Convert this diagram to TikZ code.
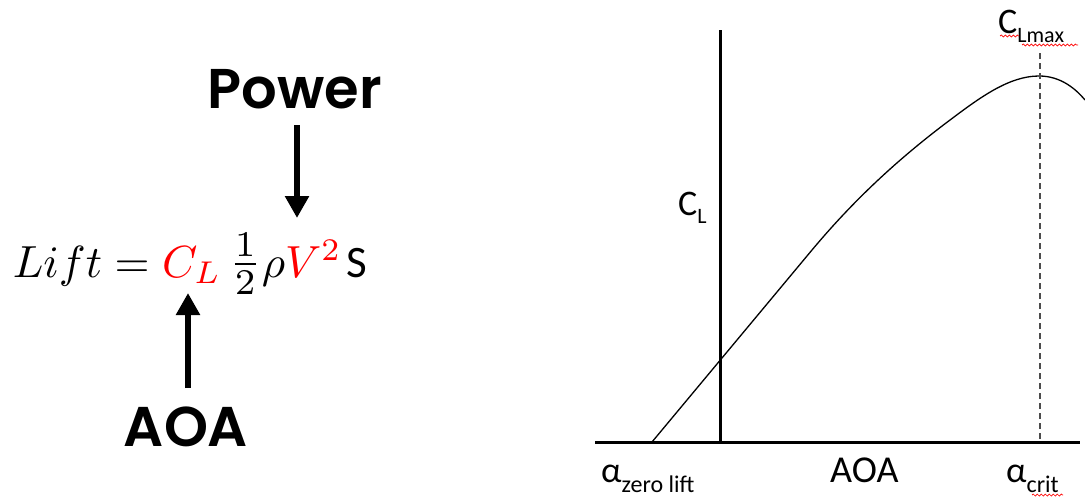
\documentclass[tikz,border=0pt]{standalone}
\usepackage{graphicx}
\usepackage{fontspec}
\usetikzlibrary{arrows.meta,decorations.pathmorphing}
\newfontfamily\carl{Carlito}
\newfontfamily\hand{Poppins}[UprightFont=* Medium,BoldFont=* SemiBold]
\tikzset{
  bigarrow/.style={line width=6pt,-{Triangle[width=23pt,length=22pt]}},
  axisline/.style={line width=3pt},
  curveline/.style={line width=1.3pt},
  critline/.style={line width=1.2pt,gray!60!black,dash pattern=on 6pt off 4pt},
  lbl/.style={inner sep=0pt,anchor=base west,font=\carl\fontsize{36}{40}\selectfont},
  handlbl/.style={inner sep=0pt,font=\hand\bfseries\fontsize{56}{60}\selectfont},
  spell/.style={red,line width=0.7pt,decorate,decoration={snake,amplitude=1pt,segment length=4pt}}
}
\begin{document}
\begin{tikzpicture}[x=1pt,y=-1pt]
\useasboundingbox (0,0) rectangle (1085,498);
% left: equation
\node[inner sep=0pt,anchor=base west,scale=4.5,font=\fontsize{10}{12}\selectfont] (eq) at (12,277)
  {$Lift = \textcolor{red}{C_L}\,\mbox{\scalebox{1.15}{$\frac{1}{2}$}}\rho\textcolor{red}{V^2}\hspace{1pt}\mbox{\carl S}$};
\node[handlbl,anchor=base] (power) at (295,108) {Power};
\node[handlbl,anchor=base] (aoa) at (186,446) {AOA};
\coordinate (pwstart) at (297,125);
\coordinate (vtip) at (297,218);
\coordinate (aoastart) at (188,388);
\coordinate (cltip) at (188,293);
\draw[bigarrow] (pwstart) -- (vtip);
\draw[bigarrow] (aoastart) -- (cltip);
% right: graph
\coordinate (xl) at (595,442.5);
\coordinate (xr) at (1080,442.5);
\coordinate (yt) at (720,30);
\coordinate (yb) at (720,442.5);
\draw[axisline] (xl) -- (xr);
\draw[axisline] (yt) -- (yb);
\coordinate (zl) at (652,442);
\coordinate (lin) at (812,250);
\coordinate (mid) at (950,120);
\coordinate (peak) at (1039,76);
\coordinate (cend) at (1085,100);
\draw[curveline] (zl) -- (lin) .. controls (858,195) and (904,154.5) .. (mid)
  .. controls (980,97.5) and (1009,76) .. (peak)
  .. controls (1060,76) and (1075,88) .. (cend);
\coordinate (ctop) at (1040,53);
\coordinate (cbot) at (1040,441);
\draw[critline] (ctop) -- (cbot);
% labels
\node[lbl] (cl) at (678,215) {C\raisebox{-8pt}{\fontsize{22}{24}\selectfont L}};
\node[lbl] (clmax) at (998,33) {C\raisebox{-9pt}{\fontsize{22}{24}\selectfont Lmax}};
\node[lbl] (azl) at (601,482) {α\raisebox{-10pt}{\fontsize{24}{26}\selectfont zero lift}};
\node[lbl,font=\carl\fontsize{38}{40}\selectfont] (aoax) at (830,482) {AOA};
\node[lbl] (acrit) at (1006,482) {α\raisebox{-10pt}{\fontsize{24}{26}\selectfont crit}};
% spell-check marks
\draw[spell] (1000,36) -- (1019,36);
\draw[spell] (1022,45) -- (1078,45);
\draw[spell] (1032,495) -- (1063,495);
\end{tikzpicture}
\end{document}
